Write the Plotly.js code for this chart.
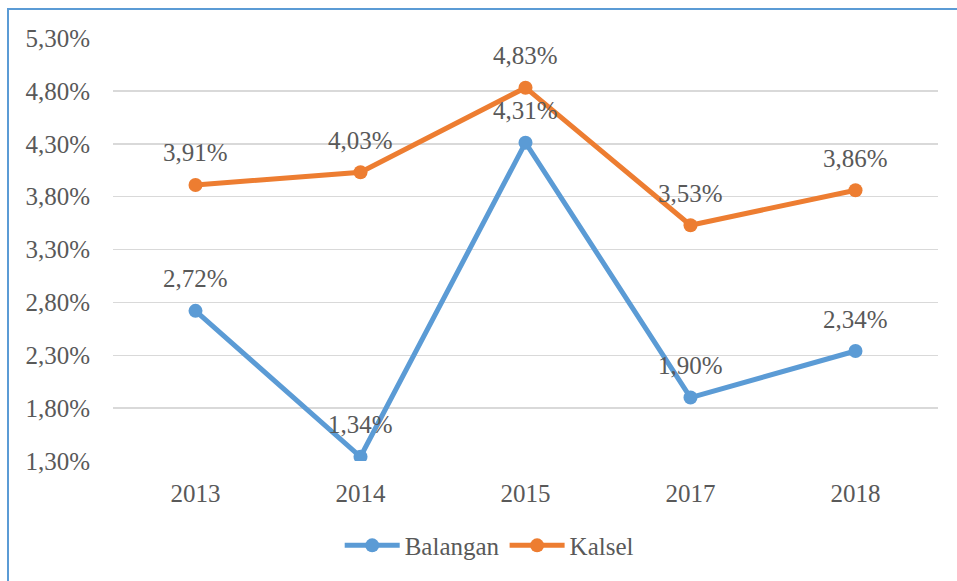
<!DOCTYPE html>
<html>
<head>
<meta charset="utf-8">
<script src="https://cdn.plot.ly/plotly-3.0.1.min.js"></script>
<style>
html,body{margin:0;padding:0;background:#fff;overflow:hidden;}
#chart{width:957px;height:581px;}
#frame{position:absolute;left:7px;top:8px;width:2000px;height:2000px;border-left:2px solid #5b9bd5;border-top:2px solid #5b9bd5;pointer-events:none;}
</style>
</head>
<body>
<div id="chart"></div>
<div id="frame"></div>
<script>
const years = ['2013', '2014', '2015', '2017', '2018'];
const balangan = [2.72, 1.34, 4.31, 1.90, 2.34];
const kalsel = [3.91, 4.03, 4.83, 3.53, 3.86];
const yTicks = [1.30, 1.80, 2.30, 2.80, 3.30, 3.80, 4.30, 4.80, 5.30];

const FONT = 'Liberation Serif, DejaVu Serif, serif';
const TXT = '#595959';
const FS = 25;
const fmt = v => v.toFixed(2).replace('.', ',') + '%';
const xIdx = years.map((_, i) => i);

const series = [
  {name: 'Balangan', values: balangan, color: '#5b9bd5'},
  {name: 'Kalsel', values: kalsel, color: '#ed7d31'}
];

const traces = series.map(s => ({
  type: 'scatter', mode: 'lines+markers', name: s.name,
  x: xIdx, y: s.values,
  line: {color: s.color, width: 5},
  marker: {color: s.color, size: 14},
  hoverinfo: 'skip'
}));

const annotations = [];
series.forEach(s => s.values.forEach((v, i) => {
  annotations.push({
    x: xIdx[i], y: v, xref: 'x', yref: 'y', text: fmt(v),
    showarrow: false, yshift: 32,
    font: {family: FONT, size: FS, color: TXT}
  });
}));

const layout = {
  width: 957, height: 581,
  margin: {l: 113, r: 19, t: 38, b: 117},
  paper_bgcolor: '#ffffff', plot_bgcolor: '#ffffff',
  font: {family: FONT, size: FS, color: TXT},
  showlegend: true,
  legend: {orientation: 'h', x: 0.456, xanchor: 'center', y: -0.2, yanchor: 'middle',
           font: {family: FONT, size: FS, color: TXT}, itemwidth: 55, traceorder: 'normal'},
  xaxis: {range: [-0.5, 4.5], tickvals: xIdx, ticktext: years,
          showgrid: false, zeroline: false, showline: false,
          ticks: 'outside', ticklen: 10, tickcolor: 'rgba(0,0,0,0)',
          tickfont: {family: FONT, size: FS, color: TXT}, fixedrange: true},
  yaxis: {range: [1.30, 5.30], tickvals: yTicks, ticktext: yTicks.map(fmt),
          showgrid: true, gridcolor: '#d9d9d9', gridwidth: 1.5, zeroline: false, showline: false,
          ticks: '', ticklabelstandoff: 22,
          tickfont: {family: FONT, size: FS, color: TXT}, fixedrange: true},
  annotations: annotations
};

Plotly.newPlot('chart', traces, layout, {displayModeBar: false, staticPlot: true});
</script>
</body>
</html>
